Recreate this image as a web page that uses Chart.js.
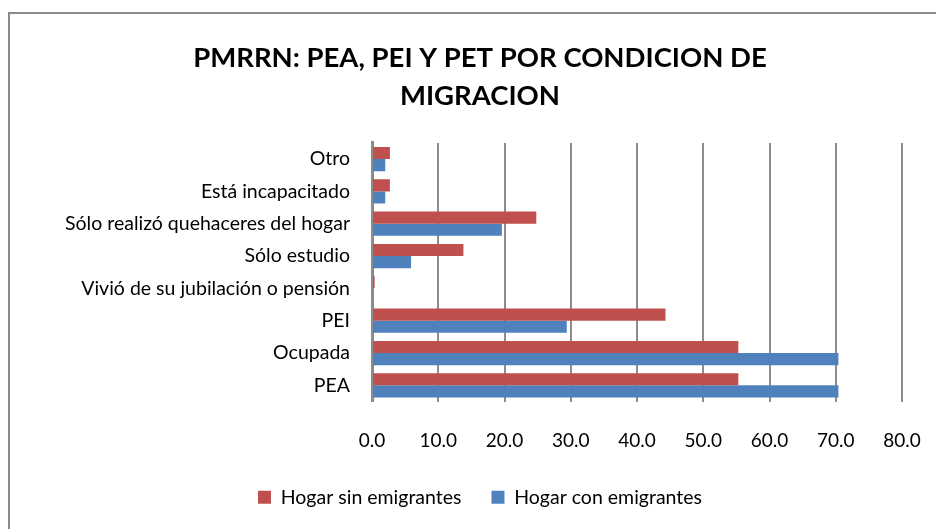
<!DOCTYPE html>
<html>
<head>
<meta charset="utf-8">
<script src="https://cdn.jsdelivr.net/npm/chart.js@4/dist/chart.umd.min.js"></script>
<style>
  html, body { margin: 0; padding: 0; background: #fff; }
  #wrap { width: 936px; height: 529px; position: relative; }
</style>
</head>
<body>
<div id="wrap"><canvas id="c" width="936" height="529"></canvas></div>
<script>
const categories = ["Otro", "Está incapacitado", "Sólo realizó quehaceres del hogar", "Sólo estudio", "Vivió de su jubilación o pensión", "PEI", "Ocupada", "PEA"];
const sinEmigrantes = [2.7, 2.7, 24.8, 13.8, 0.4, 44.3, 55.3, 55.3];
const conEmigrantes = [2.0, 2.0, 19.6, 5.9, 0.0, 29.4, 70.4, 70.4];
const seriesNames = ["Hogar sin emigrantes", "Hogar con emigrantes"];
const titleLines = ["PMRRN: PEA, PEI Y PET POR CONDICION DE", "MIGRACION"];

const FONT = "Lato, 'Open Sans', sans-serif";

const borderPlugin = {
  id: 'outerBorder',
  beforeDraw(chart) {
    const ctx = chart.ctx;
    ctx.save();
    ctx.fillStyle = '#fff';
    ctx.fillRect(0, 0, chart.width, chart.height);
    ctx.strokeStyle = '#8a8a8a';
    ctx.lineWidth = 2;
    ctx.beginPath();
    ctx.moveTo(9, chart.height);
    ctx.lineTo(9, 13);
    ctx.lineTo(chart.width, 13);
    ctx.stroke();
    ctx.restore();
  }
};

new Chart(document.getElementById('c'), {
  type: 'bar',
  data: {
    labels: categories,
    datasets: [
      { label: seriesNames[0], data: sinEmigrantes, backgroundColor: '#C0504D', borderWidth: 0 },
      { label: seriesNames[1], data: conEmigrantes, backgroundColor: '#4F81BD', borderWidth: 0 }
    ]
  },
  options: {
    indexAxis: 'y',
    responsive: false,
    animation: false,
    devicePixelRatio: 1,
    categoryPercentage: 0.75,
    barPercentage: 1.0,
    layout: { padding: { top: 13, left: 58, right: 34, bottom: 12 } },
    plugins: {
      title: {
        display: true,
        text: titleLines,
        color: '#000',
        font: { family: FONT, size: 27.5, weight: 'bold', lineHeight: 1.38 },
        padding: { top: 26, bottom: 28 }
      },
      legend: {
        position: 'bottom',
        labels: {
          color: '#000',
          font: { family: FONT, size: 19.5 },
          boxWidth: 13,
          boxHeight: 13,
          padding: 30
        }
      },
      tooltip: { enabled: false }
    },
    scales: {
      x: {
        min: 0,
        max: 80,
        ticks: {
          stepSize: 10,
          color: '#000',
          font: { family: FONT, size: 19 },
          padding: 0,
          callback: (v) => Number(v).toFixed(1)
        },
        grid: { color: '#8c8c8c', lineWidth: 2, drawTicks: true, tickLength: 28, tickColor: 'rgba(0,0,0,0)' },
        border: { display: false },
        afterFit(scale) { scale.height = 56; }
      },
      y: {
        ticks: {
          color: '#000',
          font: { family: FONT, size: 19.5 },
          padding: 22
        },
        grid: { display: false, drawTicks: false },
        border: { display: true, color: '#8c8c8c', width: 3 },
        afterFit(scale) { scale.width = 314; }
      }
    }
  },
  plugins: [borderPlugin]
});
</script>
</body>
</html>
